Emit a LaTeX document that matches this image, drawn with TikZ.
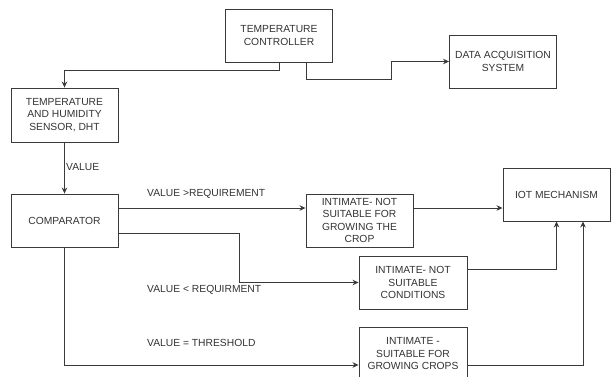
\documentclass[tikz,border=0pt]{standalone}
\usepackage{fontspec}
\setmainfont{Liberation Sans}
\usetikzlibrary{arrows.meta,calc}
\definecolor{ink}{HTML}{333333}
\definecolor{edge}{HTML}{3A3A3A}
\tikzset{
  box/.style={draw=edge, line width=0.9pt, minimum width=107pt, minimum height=53pt, inner sep=0pt, align=center, text=ink, font=\fontsize{10.3}{12.5}\selectfont},
  lbl/.style={anchor=west, inner sep=0pt, text=ink, font=\fontsize{10.3}{12.5}\selectfont},
  conn/.style={draw=edge, line width=0.9pt},
  arr/.style={conn, -{Stealth[length=6pt,width=5.5pt]}}
}
\begin{document}
\begin{tikzpicture}[x=1pt,y=-1pt]
\fill[white] (0,0) rectangle (611,376);
\useasboundingbox (0,0) rectangle (611,376);
\clip (0,0) rectangle (611,376);
\node[box] (ctrl) at (279,35.5) {TEMPERATURE\\CONTROLLER};
\node[box] (daq) at (503,61.5) {DATA ACQUISITION\\SYSTEM};
\node[box, minimum height=54pt] (sensor) at (64.5,115) {TEMPERATURE\\AND HUMIDITY\\SENSOR, DHT};
\node[box] (comp) at (64.5,220.5) {COMPARATOR};
\node[box] (b1) at (359.5,220.5) {INTIMATE- NOT\\SUITABLE FOR\\GROWING THE\\CROP};
\node[box] (iot) at (556.5,194.5) {IOT MECHANISM};
\node[box, minimum width=108pt] (b2) at (413,282.5) {INTIMATE- NOT\\SUITABLE\\CONDITIONS};
\node[box, minimum width=108pt] (b3) at (413,353.5) {INTIMATE -\\SUITABLE FOR\\GROWING CROPS};

\node[lbl] (lv) at (66,167) {VALUE};
\node[lbl] (l1) at (147,194) {VALUE >REQUIREMENT};
\node[lbl] (l2) at (147,290) {VALUE < REQUIRMENT};
\node[lbl] (l3) at (147,343) {VALUE = THRESHOLD};

\coordinate (j1) at (279,70);
\coordinate (c2) at (306,62);
\coordinate (j2) at (391,79);
\coordinate (j3) at (239,233);

\draw[arr] (ctrl.south) -- (j1) -| (sensor.north);
\draw[arr] (c2) |- (j2) |- (daq.west);
\draw[arr] (sensor.south) -- (comp.north);
\draw[arr] (comp.east |- 0,208) -- (b1.west |- 0,208);
\draw[arr] (b1.east |- 0,208) -- (iot.west |- 0,208);
\draw[arr] (comp.east |- 0,233) -- (j3) |- (b2.west);
\draw[arr] (b2.east |- 0,269) -| (iot.south);
\draw[arr] (comp.south) |- (b3.west |- 0,365);
\draw[arr] (b3.east |- 0,365) -| (iot.south -| 583,0);
\end{tikzpicture}
\end{document}
